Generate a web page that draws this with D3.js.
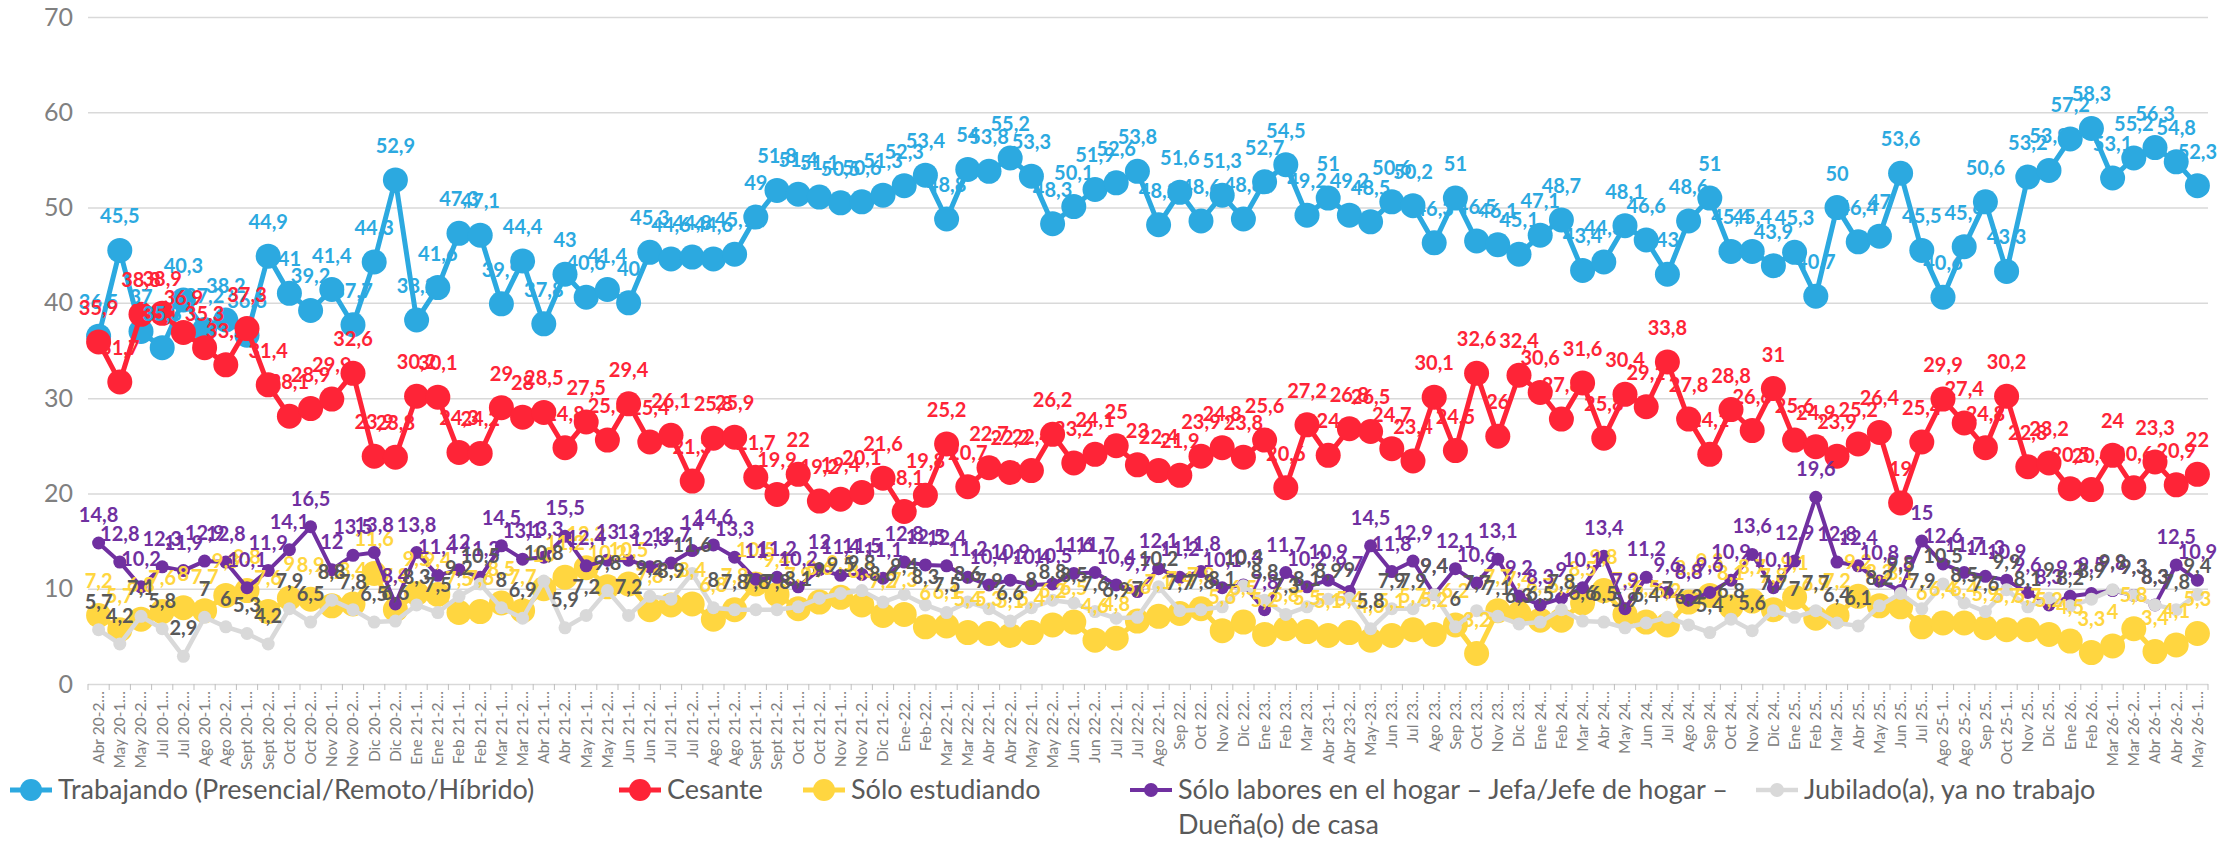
<!DOCTYPE html>
<html>
<head>
<meta charset="utf-8">
<script src="https://cdn.jsdelivr.net/npm/d3@7"></script>
<style>
  body { margin: 0; background: #ffffff; }
  text { font-family: Lato, "Open Sans", "DejaVu Sans", sans-serif; }
</style>
</head>
<body>
<svg id="chart" width="2229" height="842"></svg>
<script>
// Survey periods (axis labels are shown truncated, as in the source workbook)
const categories = [
  "Abr 20-2", "May 20-1", "May 20-2", "Jul 20-1", "Jul 20-2", "Ago 20-1", "Ago 20-2", "Sept 20-1", "Sept 20-2", "Oct 20-1",
  "Oct 20-2", "Nov 20-1", "Nov 20-2", "Dic 20-1", "Dic 20-2", "Ene 21-1", "Ene 21-2", "Feb 21-1", "Feb 21-2", "Mar 21-1",
  "Mar 21-2", "Abr 21-1", "Abr 21-2", "May 21-1", "May 21-2", "Jun 21-1", "Jun 21-2", "Jul 21-1", "Jul 21-2", "Ago 21-1",
  "Ago 21-2", "Sept 21-1", "Sept 21-2", "Oct 21-1", "Oct 21-2", "Nov 21-1", "Nov 21-2", "Dic 21-2", "Ene-22", "Feb-22",
  "Mar 22-1", "Mar 22-2", "Abr 22-1", "Abr 22-2", "May 22-1", "May 22-2", "Jun 22-1", "Jun 22-2", "Jul 22-1", "Jul 22-2",
  "Ago 22-1", "Sep 22", "Oct 22", "Nov 22", "Dic 22", "Ene 23", "Feb 23", "Mar 23", "Abr 23-1", "Abr 23-2",
  "May-23", "Jun 23", "Jul 23", "Ago 23", "Sep 23", "Oct 23", "Nov 23", "Dic 23", "Ene 24", "Feb 24",
  "Mar 24", "Abr 24", "May 24", "Jun 24", "Jul 24", "Ago 24", "Sep 24", "Oct 24", "Nov 24", "Dic 24",
  "Ene 25", "Feb 25", "Mar 25", "Abr 25", "May 25", "Jun 25", "Jul 25", "Ago 25-1", "Ago 25-2", "Sep 25",
  "Oct 25-1", "Nov 25", "Dic 25", "Ene 26", "Feb 26", "Mar 26-1", "Mar 26-2", "Abr 26-1", "Abr 26-2", "May 26-1"
];

const trabajando = [
  36.5, 45.5, 37, 35.3, 40.3, 37.2, 38.2, 36.6, 44.9, 41,
  39.2, 41.4, 37.7, 44.3, 52.9, 38.2, 41.6, 47.3, 47.1, 39.9,
  44.4, 37.8, 43, 40.6, 41.4, 40, 45.3, 44.6, 44.8, 44.6,
  45.1, 49, 51.8, 51.4, 51.1, 50.5, 50.6, 51.3, 52.3, 53.4,
  48.8, 54, 53.8, 55.2, 53.3, 48.3, 50.1, 51.9, 52.6, 53.8,
  48.2, 51.6, 48.6, 51.3, 48.8, 52.7, 54.5, 49.2, 51, 49.2,
  48.5, 50.6, 50.2, 46.3, 51, 46.5, 46.1, 45.1, 47.1, 48.7,
  43.4, 44.3, 48.1, 46.6, 43, 48.6, 51, 45.4, 45.4, 43.9,
  45.3, 40.7, 50, 46.4, 47, 53.6, 45.5, 40.6, 45.9, 50.6,
  43.3, 53.2, 53.9, 57.2, 58.3, 53.1, 55.2, 56.3, 54.8, 52.3
];

const cesante = [
  35.9, 31.7, 38.8, 38.9, 36.9, 35.3, 33.5, 37.3, 31.4, 28.1,
  28.9, 29.9, 32.6, 23.9, 23.8, 30.2, 30.1, 24.3, 24.2, 29,
  28, 28.5, 24.8, 27.5, 25.6, 29.4, 25.4, 26.1, 21.3, 25.8,
  25.9, 21.7, 19.9, 22, 19.2, 19.4, 20.1, 21.6, 18.1, 19.8,
  25.2, 20.7, 22.7, 22.2, 22.4, 26.2, 23.2, 24.1, 25, 23,
  22.4, 21.9, 23.9, 24.8, 23.8, 25.6, 20.6, 27.2, 24, 26.8,
  26.5, 24.7, 23.4, 30.1, 24.5, 32.6, 26, 32.4, 30.6, 27.8,
  31.6, 25.8, 30.4, 29.1, 33.8, 27.8, 24.1, 28.8, 26.6, 31,
  25.6, 24.9, 23.9, 25.2, 26.4, 19, 25.4, 29.9, 27.4, 24.8,
  30.2, 22.8, 23.2, 20.5, 20.4, 24, 20.6, 23.3, 20.9, 22
];

const estudiando = [
  7.2, 5.7, 6.8, 7.6, 8, 7.7, 9.3, 9.8, 7.6, 9,
  8.9, 8.2, 8.4, 11.6, 7.8, 9.5, 9.4, 7.5, 7.6, 8.5,
  7.7, 10, 11.2, 12.2, 10.2, 10.5, 7.8, 8.3, 8.4, 6.8,
  7.8, 10.5, 9.4, 7.9, 8.6, 9.1, 8.3, 7.2, 7.3, 6,
  6.1, 5.4, 5.3, 5.1, 5.4, 6.2, 6.5, 4.6, 4.8, 6.6,
  7.1, 7.4, 7.9, 5.6, 6.5, 5.2, 5.8, 5.5, 5.1, 5.4,
  4.6, 5.1, 5.7, 5.2, 6.2, 3.2, 7.7, 7.4, 6.7, 6.7,
  8.5, 9.8, 7.3, 6.5, 6.2, 8.6, 9.3, 8.1, 8.7, 7.8,
  9.1, 6.9, 7.2, 9.2, 8.2, 8.1, 6, 6.4, 6.4, 5.9,
  5.7, 5.7, 5.2, 4.5, 3.3, 4, 5.8, 3.4, 4.1, 5.3
];

const laboresHogar = [
  14.8, 12.8, 10.2, 12.3, 11.9, 12.9, 12.8, 10.1, 11.9, 14.1,
  16.5, 12, 13.5, 13.8, 8.4, 13.8, 11.4, 12, 11.2, 14.5,
  13.1, 13.3, 15.5, 12.4, 13, 13, 12.3, 12.7, 14, 14.6,
  13.3, 11, 11.2, 10.2, 12, 11.4, 11.5, 11.1, 12.8, 12.5,
  12.4, 11.2, 10.4, 10.9, 10.4, 10.5, 11.6, 11.7, 10.4, 9.7,
  12.1, 11.2, 11.8, 10.1, 10.4, 7.8, 11.7, 10.2, 10.9, 9.7,
  14.5, 11.8, 12.9, 9.4, 12.1, 10.6, 13.1, 9.2, 8.3, 9,
  10.1, 13.4, 7.9, 11.2, 9.6, 8.8, 9.6, 10.9, 13.6, 10.1,
  12.9, 19.6, 12.8, 12.4, 10.8, 9.8, 15, 12.6, 11.7, 11.3,
  10.9, 9.6, 8.3, 9.2, 9.5, 9.8, 9.3, 8.3, 12.5, 10.9
];

const jubilado = [
  5.7, 4.2, 7.1, 5.8, 2.9, 7, 6, 5.3, 4.2, 7.9,
  6.5, 8.8, 7.8, 6.5, 6.6, 8.3, 7.5, 9.2, 10.5, 8,
  6.9, 10.8, 5.9, 7.2, 9.8, 7.2, 9.2, 8.9, 11.6, 8,
  7.8, 7.8, 7.8, 8.1, 9, 9.5, 9.8, 8.6, 9.4, 8.3,
  7.5, 8.6, 7.9, 6.6, 8, 8.8, 8.5, 7.6, 6.9, 7,
  10.2, 7.7, 7.8, 8.1, 10.3, 8.8, 7.3, 8.1, 8.9, 9,
  5.8, 7.9, 7.9, 9.4, 6, 7.7, 7.1, 6.3, 6.5, 7.8,
  6.6, 6.5, 5.9, 6.4, 7, 6.2, 5.4, 6.8, 5.6, 7.7,
  7, 7.7, 6.4, 6.1, 8.2, 9.5, 7.9, 10.5, 8.5, 7.6,
  9.9, 8.1, 9, 8.2, 8.9, 9.9, 9.3, 8.3, 7.8, 9.4
];

const yTicks = [0, 10, 20, 30, 40, 50, 60, 70];

// Series, in drawing order (later series paint over earlier ones)
const series = [
  { name: "Trabajando (Presencial/Remoto/Híbrido)", values: trabajando, color: "#2CA9E0", label: "#2CA9E0", width: 5, r: 12.5, lift: 27, legendR: 11 },
  { name: "Cesante", values: cesante, color: "#FE2437", label: "#FE2437", width: 5, r: 12.5, lift: 27, legendR: 11 },
  { name: "Sólo estudiando", values: estudiando, color: "#FFD640", label: "#FFD640", width: 5, r: 12.5, lift: 27, legendR: 11 },
  { name: ["Sólo labores en el hogar – Jefa/Jefe de hogar –", "Dueña(o) de casa"], values: laboresHogar, color: "#7030A0", label: "#7030A0", width: 4, r: 6.5, lift: 21, legendR: 7 },
  { name: "Jubilado(a), ya no trabajo", values: jubilado, color: "#D9D9D9", label: "#595959", width: 4.5, r: 6.5, lift: 21, legendR: 7 }
];

const svg = d3.select("#chart");
const plot = { left: 88, right: 2208, top: 17, bottom: 684 };

const x = d3.scalePoint()
  .domain(d3.range(categories.length))
  .range([plot.left, plot.right])
  .padding(0.5);

const y = d3.scaleLinear()
  .domain([0, 70])
  .range([plot.bottom, plot.top]);

// Horizontal gridlines and value axis
const yAxis = svg.append("g")
  .attr("transform", `translate(${plot.left},0)`)
  .call(d3.axisLeft(y).tickValues(yTicks).tickSize(-(plot.right - plot.left)).tickPadding(15).tickFormat(d3.format("d")));
yAxis.select(".domain").remove();
yAxis.selectAll(".tick line").attr("stroke", "#D9D9D9").attr("stroke-width", 1.5);
yAxis.selectAll(".tick text")
  .attr("fill", "#808080")
  .style("font-size", "25px");

// Category axis: ticks sit on the boundaries between periods
const step = x.step();
const boundaries = d3.range(categories.length + 1).map(i => (i === 0 ? x(0) - step / 2 : x(i - 1) + step / 2));
svg.append("g").selectAll("line")
  .data(boundaries)
  .join("line")
  .attr("x1", d => d).attr("x2", d => d)
  .attr("y1", y(0)).attr("y2", y(0) + 6)
  .attr("stroke", "#BFBFBF").attr("stroke-width", 1);

svg.append("g").selectAll("text")
  .data(categories)
  .join("text")
  .attr("transform", (d, i) => `translate(${x(i)},${y(0) + 7}) rotate(-90)`)
  .attr("text-anchor", "end")
  .attr("dy", "0.35em")
  .attr("fill", "#808080")
  .style("font-size", "15.5px")
  .text(d => d + "…");

// Lines and markers
const line = d3.line().x((d, i) => x(i)).y(d => y(d));

series.forEach(s => {
  const g = svg.append("g");
  g.append("path")
    .datum(s.values)
    .attr("d", line)
    .attr("fill", "none")
    .attr("stroke", s.color)
    .attr("stroke-width", s.width)
    .attr("stroke-linejoin", "round");
  g.selectAll("circle")
    .data(s.values)
    .join("circle")
    .attr("cx", (d, i) => x(i))
    .attr("cy", d => y(d))
    .attr("r", s.r)
    .attr("fill", s.color);
});

// Data labels, drawn above all markers
const fmt = v => String(v).replace(".", ",");
series.forEach(s => {
  svg.append("g").selectAll("text")
    .data(s.values)
    .join("text")
    .attr("x", (d, i) => x(i))
    .attr("y", d => y(d) - s.lift)
    .attr("text-anchor", "middle")
    .attr("fill", s.label)
    .style("font-size", "20px")
    .style("font-weight", "bold")
    .text(fmt);
});

// Legend
const legendX = [31, 640, 824, 1151, 1777];
const legendY = 790;
const legend = svg.append("g");
series.forEach((s, i) => {
  const g = legend.append("g").attr("transform", `translate(${legendX[i]},${legendY})`);
  g.append("line").attr("x1", -21).attr("x2", 21).attr("y1", 0).attr("y2", 0)
    .attr("stroke", s.color).attr("stroke-width", s.width);
  g.append("circle").attr("r", s.legendR).attr("fill", s.color);
  const lines = Array.isArray(s.name) ? s.name : [s.name];
  const t = g.append("text")
    .attr("x", 27)
    .attr("fill", "#595959")
    .style("font-size", "27px");
  lines.forEach((ln, j) => {
    t.append("tspan").attr("x", 27).attr("y", j * 35).attr("dy", "0.35em").text(ln);
  });
});
</script>
</body>
</html>
